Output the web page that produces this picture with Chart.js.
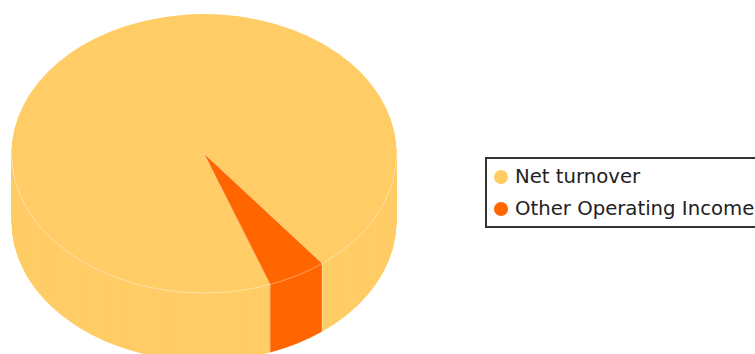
<!DOCTYPE html>
<html>
<head>
<meta charset="utf-8">
<script src="https://cdn.jsdelivr.net/npm/chart.js@4/dist/chart.umd.min.js"></script>
<style>
    html, body { margin: 0; background: #fff; overflow: hidden; }
    #wrap { position: relative; width: 755px; height: 354px; overflow: hidden; }
    #legend {
        position: absolute; left: 485px; top: 157px; width: 300px; height: 67px;
        border: 2px solid #333; background: #fff;
        font: 19.7px "DejaVu Sans", sans-serif; color: #222;
    }
    #legend div { position: absolute; left: 28px; white-space: nowrap; line-height: 32px; }
    #legend i { position: absolute; left: -21px; top: 9px; width: 14px; height: 14px; border-radius: 50%; }
</style>
</head>
<body>
<div id="wrap">
    <canvas id="chart" width="755" height="354"></canvas>
    <div id="legend"></div>
</div>
<script>
const categories = ['Net turnover', 'Other Operating Income'];
const shares = [95.05, 4.95];
const sliceColors = ['#FFCC66', '#FF6600'];

// Tilted disc: the flat pie gets squashed onto this ellipse, the wall is repeated below it
const disc = { cx: 204, cy: 153.5, rx: 192.5, ry: 139.5, depth: 68 };
const seamColor = 'rgba(255, 255, 255, 0.4)';

const tiltedPie = {
    id: 'tiltedPie',
    beforeDatasetsDraw(chart) {
        const { ctx } = chart;
        const arcs = chart.getDatasetMeta(0).data;
        const { x, y, outerRadius: r } = arcs[0].getProps(['x', 'y', 'outerRadius'], true);

        const project = (dy) => {
            ctx.translate(disc.cx, disc.cy + dy);
            ctx.scale(disc.rx / r, disc.ry / r);
            ctx.translate(-x, -y);
        };

        // wall first, deepest layer upwards, then the top face
        for (let dy = disc.depth; dy >= 0; dy--) {
            ctx.save();
            project(dy);
            arcs.forEach(arc => arc.draw(ctx));
            ctx.restore();
        }

        ctx.strokeStyle = seamColor;
        ctx.lineWidth = 1;

        // front rim of the top face
        ctx.beginPath();
        ctx.ellipse(disc.cx, disc.cy, disc.rx, disc.ry, 0, 0, Math.PI);
        ctx.stroke();

        // slice edges: radial on top, vertical on the wall
        const orange = arcs[1].getProps(['startAngle', 'endAngle'], true);
        [orange.startAngle, orange.endAngle].forEach(angle => {
            const ex = disc.cx + disc.rx * Math.cos(angle);
            const ey = disc.cy + disc.ry * Math.sin(angle);
            ctx.beginPath();
            ctx.moveTo(disc.cx, disc.cy);
            ctx.lineTo(ex, ey);
            ctx.lineTo(ex, ey + disc.depth);
            ctx.stroke();
        });

        return false;
    },
};

const chart = new Chart(document.getElementById('chart'), {
    type: 'pie',
    data: {
        labels: categories,
        datasets: [{
            data: shares,
            backgroundColor: sliceColors,
            borderWidth: 0,
        }],
    },
    options: {
        responsive: false,
        animation: false,
        rotation: 159.9,
        plugins: {
            legend: { display: false },
            tooltip: { enabled: false },
        },
    },
    plugins: [tiltedPie],
});

// Boxed legend sits partly off the right edge, so it lives outside the canvas
const legendBox = document.getElementById('legend');
chart.options.plugins.legend.labels.generateLabels(chart).forEach((item, i) => {
    const row = document.createElement('div');
    row.style.top = (2 + i * 32) + 'px';
    row.textContent = item.text;
    const dot = document.createElement('i');
    dot.style.background = item.fillStyle;
    row.appendChild(dot);
    legendBox.appendChild(row);
});
</script>
</body>
</html>
